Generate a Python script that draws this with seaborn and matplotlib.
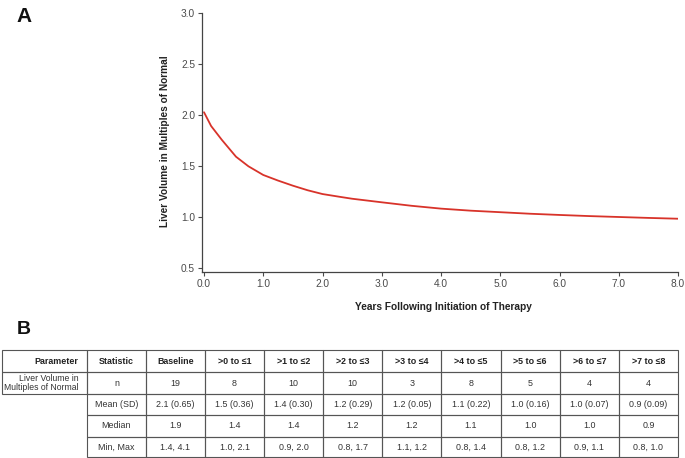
import matplotlib
matplotlib.use("Agg")
import matplotlib.pyplot as plt
import seaborn as sns
import pandas as pd
from matplotlib.patches import Rectangle

# curve
years = [0.0, 0.12, 0.3, 0.54, 0.75, 1.0, 1.25, 1.5, 1.75, 2.0, 2.3, 2.5, 3.0, 3.5, 4.0,
         4.5, 5.0, 5.5, 6.0, 6.5, 7.0, 7.5, 8.0]
liver_volume = [2.03, 1.895, 1.76, 1.594, 1.50, 1.415, 1.36, 1.31, 1.265, 1.228, 1.20, 1.182,
                1.147, 1.113, 1.085, 1.065, 1.05, 1.035, 1.023, 1.012, 1.003, 0.994, 0.986]

x_ticks = [0.0, 1.0, 2.0, 3.0, 4.0, 5.0, 6.0, 7.0, 8.0]
y_ticks = [0.5, 1.0, 1.5, 2.0, 2.5, 3.0]

# table of panel B
header = ["Parameter", "Statistic", "Baseline", ">0 to \u22641", ">1 to \u22642", ">2 to \u22643",
          ">3 to \u22644", ">4 to \u22645", ">5 to \u22646", ">6 to \u22647", ">7 to \u22648"]
statistics = ["n", "Mean (SD)", "Median", "Min, Max"]
stat_n = ["19", "8", "10", "10", "3", "8", "5", "4", "4"]
stat_mean = ["2.1 (0.65)", "1.5 (0.36)", "1.4 (0.30)", "1.2 (0.29)", "1.2 (0.05)",
             "1.1 (0.22)", "1.0 (0.16)", "1.0 (0.07)", "0.9 (0.09)"]
stat_median = ["1.9", "1.4", "1.4", "1.2", "1.2", "1.1", "1.0", "1.0", "0.9"]
stat_minmax = ["1.4, 4.1", "1.0, 2.1", "0.9, 2.0", "0.8, 1.7", "1.1, 1.2",
               "0.8, 1.4", "0.8, 1.2", "0.9, 1.1", "0.8, 1.0"]
parameter_label = "Liver Volume in\nMultiples of Normal"

sns.set_style("ticks")
plt.rcParams["font.family"] = ["Liberation Sans", "DejaVu Sans"]

W, H = 685, 458
fig = plt.figure(figsize=(W / 100, H / 100), dpi=100)

# panel A axes
ax_left, ax_right, ax_top, ax_bottom = 202, 678, 13.3, 272
ax = fig.add_axes([ax_left / W, 1 - ax_bottom / H, (ax_right - ax_left) / W, (ax_bottom - ax_top) / H])
df = pd.DataFrame({"years": years, "volume": liver_volume})
sns.lineplot(data=df, x="years", y="volume", ax=ax, color="#d8332a", linewidth=1.3)
px_per_year = (ax_right - 204) / 8.0
ax.set_xlim(-(204 - ax_left) / px_per_year, 8.0)
px_per_unit = (268.3 - ax_top) / 2.5
ax.set_ylim(0.5 - (ax_bottom - 268.3) / px_per_unit, 3.0)
ax.set_xticks(x_ticks)
ax.set_xticklabels([f"{v:.1f}" for v in x_ticks])
ax.set_yticks(y_ticks)
ax.set_yticklabels([f"{v:.1f}" for v in y_ticks])
ax.tick_params(labelsize=7.3, colors="#4a4a4a", length=3, width=0.8, pad=2)
for s in ["top", "right"]:
    ax.spines[s].set_visible(False)
for s in ["left", "bottom"]:
    ax.spines[s].set_color("#444444")
    ax.spines[s].set_linewidth(0.9)
ax.set_xlabel("")
ax.set_ylabel("")

fig.text(443 / W, 1 - 307 / H, "Years Following Initiation of Therapy", ha="center", va="center",
         fontsize=7.3, fontweight="bold", color="#222222")
fig.text(165 / W, 1 - 141 / H, "Liver Volume in Multiples of Normal", ha="center", va="center",
         rotation=90, fontsize=7.3, fontweight="bold", color="#222222")

fig.text(16 / W, 1 - 16 / H, "A", ha="left", va="center", fontsize=15, fontweight="bold", color="#111111")
fig.text(17 / W, 1 - 329 / H, "B", ha="left", va="center", fontsize=14, fontweight="bold", color="#111111")

# panel B table on a pixel-coordinate overlay
tab = fig.add_axes([0, 0, 1, 1])
tab.set_xlim(0, W)
tab.set_ylim(H, 0)
tab.axis("off")

col_w = (678 - 205) / 8
col_edges = [2, 87, 146] + [205 + i * col_w for i in range(9)]
row_edges = [350, 372, 394, 415, 436.5, 457.3]
line_kw = dict(fill=False, edgecolor="#555555", linewidth=0.8)
fs = 6.4

rows = [stat_n, stat_mean, stat_median, stat_minmax]
for r in range(5):
    y0, y1 = row_edges[r], row_edges[r + 1]
    yc = (y0 + y1) / 2
    for c in range(11):
        if r >= 2 and c == 0:
            continue
        x0, x1 = col_edges[c], col_edges[c + 1]
        tab.add_patch(Rectangle((x0, y0), x1 - x0, y1 - y0, **line_kw))
        xc = (x0 + x1) / 2
        if r == 0:
            if c == 0:
                tab.text(x1 - 9, yc, header[c], ha="right", va="center", fontsize=fs,
                         fontweight="bold", color="#222222")
            else:
                tab.text(xc, yc, header[c], ha="center", va="center", fontsize=fs,
                         fontweight="bold", color="#222222")
        else:
            if c == 0:
                tab.text(x1 - 8, yc, parameter_label, ha="right", va="center", fontsize=6.2,
                         color="#333333", linespacing=1.1, multialignment="right")
            elif c == 1:
                tab.text(xc, yc, statistics[r - 1], ha="center", va="center", fontsize=fs, color="#333333")
            else:
                tab.text(xc, yc, rows[r - 1][c - 2], ha="center", va="center", fontsize=fs, color="#333333")

fig.savefig("out.png", dpi=100)
